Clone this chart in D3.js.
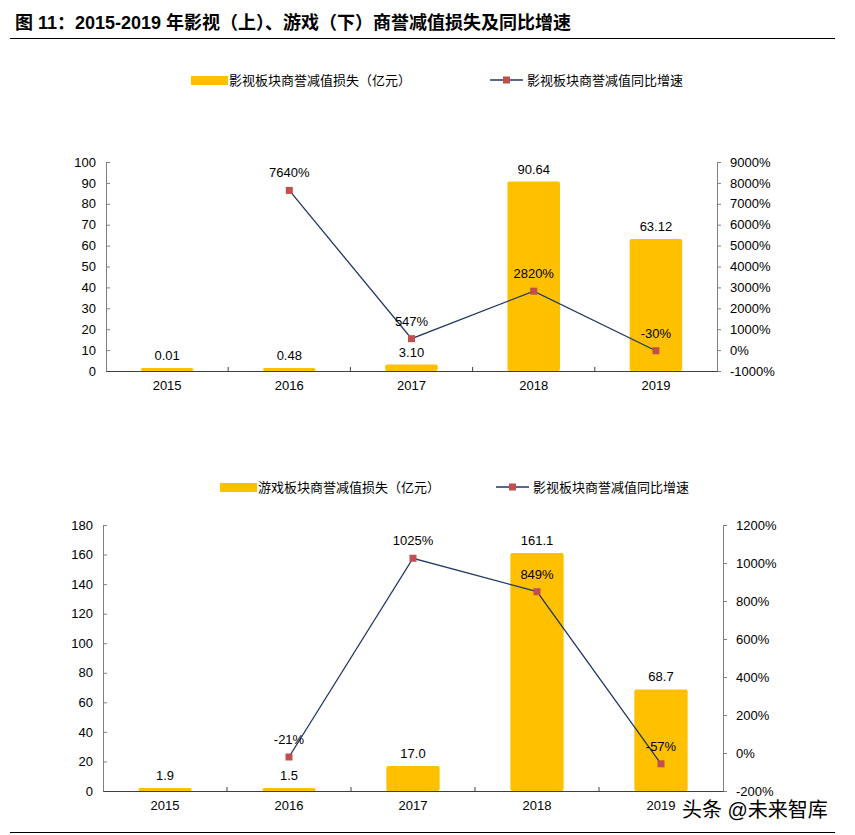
<!DOCTYPE html>
<html>
<head>
<meta charset="utf-8">
<script src="https://d3js.org/d3.v7.min.js"></script>
<style>
  body { margin:0; background:#fff; }
  text { font-family: "Liberation Sans", Arial, "Noto Sans CJK SC", sans-serif; fill:#000; }
  .cjk { font-family: "Liberation Sans", "Noto Sans CJK SC", sans-serif; }
</style>
</head>
<body>
<script>
// ---- data ----
var years = ["2015", "2016", "2017", "2018", "2019"];

var filmLoss = [0.01, 0.48, 3.10, 90.64, 63.12];
var filmLossLabels = ["0.01", "0.48", "3.10", "90.64", "63.12"];
var filmGrowth = [null, 7640, 547, 2820, -30];

var gameLoss = [1.9, 1.5, 17.0, 161.1, 68.7];
var gameLossLabels = ["1.9", "1.5", "17.0", "161.1", "68.7"];
var gameGrowth = [null, -21, 1025, 849, -57];

var filmLeftTicks = [0, 10, 20, 30, 40, 50, 60, 70, 80, 90, 100];
var filmRightTicks = [-1000, 0, 1000, 2000, 3000, 4000, 5000, 6000, 7000, 8000, 9000];
var gameLeftTicks = [0, 20, 40, 60, 80, 100, 120, 140, 160, 180];
var gameRightTicks = [-200, 0, 200, 400, 600, 800, 1000, 1200];

var svg = d3.select("body").append("svg").attr("width", 855).attr("height", 835);

// title
svg.append("text").attr("x", 15).attr("y", 29)
  .attr("class", "cjk")
  .style("font-size", "18px").style("font-weight", "bold")
  .text("图 11：2015-2019 年影视（上）、游戏（下）商誉减值损失及同比增速");
svg.append("line").attr("x1", 10).attr("x2", 835).attr("y1", 38.5).attr("y2", 38.5)
  .attr("stroke", "#000").attr("stroke-width", 1);
svg.append("line").attr("x1", 10).attr("x2", 835).attr("y1", 832.5).attr("y2", 832.5)
  .attr("stroke", "#000").attr("stroke-width", 1);

function drawChart(cfg) {
  var g = svg.append("g");
  var x = d3.scaleBand().domain(years).range([cfg.left, cfg.right]);
  var yL = d3.scaleLinear().domain([cfg.leftTicks[0], cfg.leftTicks[cfg.leftTicks.length - 1]]).range([cfg.bottom, cfg.top]);
  var yR = d3.scaleLinear().domain([cfg.rightTicks[0], cfg.rightTicks[cfg.rightTicks.length - 1]]).range([cfg.bottom, cfg.top]);
  var bw = x.bandwidth() * 0.43;

  // left axis
  var la = g.append("g").attr("transform", "translate(" + cfg.left + ",0)")
    .call(d3.axisLeft(yL).tickValues(cfg.leftTicks).tickSize(-4).tickPadding(10));
  la.select(".domain").attr("stroke", "#808080");
  la.selectAll(".tick line").attr("stroke", "#808080");
  la.selectAll(".tick text").style("font-size", "13px").attr("fill", "#000");

  // right axis
  var ra = g.append("g").attr("transform", "translate(" + cfg.right + ",0)")
    .call(d3.axisRight(yR).tickValues(cfg.rightTicks).tickSize(4).tickPadding(cfg.rpad)
      .tickFormat(function(d){ return d + "%"; }));
  ra.select(".domain").attr("stroke", "#808080");
  ra.selectAll(".tick line").attr("stroke", "#808080");
  ra.selectAll(".tick text").style("font-size", "13px").attr("fill", "#000");

  // bars
  g.append("g").selectAll("rect").data(cfg.loss).enter().append("rect")
    .attr("x", function(d, i){ return x(years[i]) + (x.bandwidth() - bw) / 2; })
    .attr("width", bw)
    .attr("y", function(d){ return Math.min(yL(d), cfg.bottom - 3); })
    .attr("height", function(d){ return Math.max(cfg.bottom - yL(d), 3); })
    .attr("rx", 2)
    .attr("fill", "#FFC000");

  // x axis
  var xa = g.append("g").attr("transform", "translate(0," + cfg.bottom + ")")
    .call(d3.axisBottom(x).tickSize(0).tickPadding(10));
  xa.select(".domain").attr("stroke", "#404040");
  xa.selectAll(".tick text").style("font-size", "13px").attr("fill", "#000");
  g.append("g").selectAll("line").data(years.slice(1)).enter().append("line")
    .attr("x1", function(d){ return x(d); }).attr("x2", function(d){ return x(d); })
    .attr("y1", cfg.bottom - 4).attr("y2", cfg.bottom)
    .attr("stroke", "#404040");

  // bar labels
  g.append("g").selectAll("text").data(cfg.loss).enter().append("text")
    .attr("x", function(d, i){ return x(years[i]) + x.bandwidth() / 2; })
    .attr("y", function(d){ return Math.min(yL(d), cfg.bottom - 3) - 8; })
    .attr("text-anchor", "middle").style("font-size", "13px")
    .text(function(d, i){ return cfg.lossLabels[i]; });

  // line
  var pts = cfg.growth.map(function(v, i){ return {v: v, c: years[i]}; }).filter(function(p){ return p.v !== null; });
  var line = d3.line()
    .x(function(p){ return x(p.c) + x.bandwidth() / 2; })
    .y(function(p){ return yR(p.v); });
  g.append("path").datum(pts).attr("d", line)
    .attr("fill", "none").attr("stroke", "#1F3864").attr("stroke-width", 1.3);
  g.append("g").selectAll("rect").data(pts).enter().append("rect")
    .attr("x", function(p){ return x(p.c) + x.bandwidth() / 2 - 3.5; })
    .attr("y", function(p){ return yR(p.v) - 3.5; })
    .attr("width", 7).attr("height", 7)
    .attr("fill", "#C0504D");
  g.append("g").selectAll("text").data(pts).enter().append("text")
    .attr("x", function(p){ return x(p.c) + x.bandwidth() / 2; })
    .attr("y", function(p){ return yR(p.v) - 13; })
    .attr("text-anchor", "middle").style("font-size", "13px")
    .text(function(p){ return p.v + "%"; });

  // legend
  var lg = g.append("g");
  lg.append("rect").attr("x", cfg.legX).attr("y", cfg.legY - 4).attr("width", 37).attr("height", 9)
    .attr("fill", "#FFC000");
  lg.append("text").attr("x", cfg.legX + 38).attr("y", cfg.legY + 5)
    .attr("class", "cjk").style("font-size", "13px").attr("fill", "#000").text(cfg.legBar);
  lg.append("line").attr("x1", cfg.legX2).attr("x2", cfg.legX2 + 33)
    .attr("y1", cfg.legY).attr("y2", cfg.legY)
    .attr("stroke", "#1F3864").attr("stroke-width", 1.3);
  lg.append("rect").attr("x", cfg.legX2 + 13).attr("y", cfg.legY - 3.5).attr("width", 7).attr("height", 7)
    .attr("fill", "#C0504D");
  lg.append("text").attr("x", cfg.legX2 + 37).attr("y", cfg.legY + 5)
    .attr("class", "cjk").style("font-size", "13px").attr("fill", "#000").text(cfg.legLine);
}

drawChart({
  left: 106, right: 717, top: 162, bottom: 371, rpad: 9,
  leftTicks: filmLeftTicks, rightTicks: filmRightTicks,
  loss: filmLoss, lossLabels: filmLossLabels, growth: filmGrowth,
  legX: 191, legX2: 490, legY: 80,
  legBar: "影视板块商誉减值损失（亿元）", legLine: "影视板块商誉减值同比增速"
});

drawChart({
  left: 103, right: 723, top: 525, bottom: 791, rpad: 9,
  leftTicks: gameLeftTicks, rightTicks: gameRightTicks,
  loss: gameLoss, lossLabels: gameLossLabels, growth: gameGrowth,
  legX: 220, legX2: 496, legY: 487,
  legBar: "游戏板块商誉减值损失（亿元）", legLine: "影视板块商誉减值同比增速"
});

// watermark
svg.append("text").attr("x", 682).attr("y", 817)
  .attr("class", "cjk").style("font-size", "20px").attr("fill", "#222")
  .text("头条 @未来智库");
</script>
</body>
</html>
